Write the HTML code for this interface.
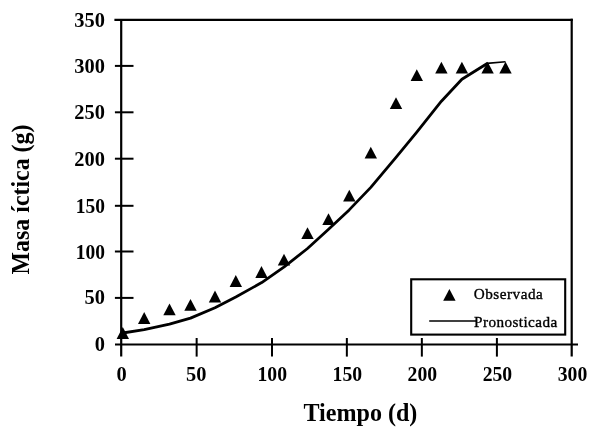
<!DOCTYPE html>
<html>
<head>
<meta charset="utf-8">
<title>Masa íctica vs Tiempo</title>
<style>
  html, body { margin: 0; padding: 0; background: #ffffff; }
  body { width: 600px; height: 435px; overflow: hidden; font-family: "Liberation Serif", serif; }
  svg { display: block; filter: grayscale(1); }
  text { font-family: "Liberation Serif", serif; fill: #000; }
  .b { font-weight: bold; }
</style>
</head>
<body>
<svg width="600" height="435" viewBox="0 0 600 435">
  <rect x="0" y="0" width="600" height="435" fill="#ffffff"/>

  <!-- plot frame -->
  <g stroke="#000" stroke-width="2.2" fill="none" stroke-linecap="butt">
    <line x1="114.4" y1="19.8" x2="572.8" y2="19.8"/>
    <line x1="121.2" y1="19.5" x2="121.2" y2="356.4"/>
    <line x1="571.7" y1="18.7" x2="571.7" y2="356.4"/>
    <line x1="115" y1="344.5" x2="578" y2="344.5" stroke-width="2"/>
  </g>

  <!-- y ticks -->
  <g stroke="#000" stroke-width="2">
    <line x1="114.9" y1="65.9" x2="133.5" y2="65.9"/>
    <line x1="114.9" y1="112.3" x2="133.5" y2="112.3"/>
    <line x1="114.9" y1="158.7" x2="133.5" y2="158.7"/>
    <line x1="114.9" y1="205.8" x2="133.5" y2="205.8"/>
    <line x1="114.9" y1="251.5" x2="133.5" y2="251.5"/>
    <line x1="114.9" y1="297.9" x2="133.5" y2="297.9"/>
  </g>
  <!-- x ticks -->
  <g stroke="#000" stroke-width="2">
    <line x1="196.65" y1="338" x2="196.65" y2="356.6"/>
    <line x1="272.0" y1="338" x2="272.0" y2="356.6"/>
    <line x1="346.85" y1="338" x2="346.85" y2="356.6"/>
    <line x1="421.85" y1="338" x2="421.85" y2="356.6"/>
    <line x1="496.9" y1="338" x2="496.9" y2="356.6"/>
  </g>

  <!-- y labels -->
  <g class="b" font-size="20.4" text-anchor="end">
    <text x="104.9" y="26.9">350</text>
    <text x="104.9" y="72.9">300</text>
    <text x="104.9" y="119.3">250</text>
    <text x="104.9" y="165.7">200</text>
    <text transform="translate(104.9,212.5) scale(0.955,1)">150</text>
    <text transform="translate(104.9,258.5) scale(0.955,1)">100</text>
    <text x="104.9" y="304.3">50</text>
    <text x="104.9" y="351.1">0</text>
  </g>
  <!-- x labels -->
  <g class="b" font-size="20.4" text-anchor="middle">
    <text x="121.6" y="380.6">0</text>
    <text x="196.3" y="380.6">50</text>
    <text transform="translate(272.2,380.6) scale(0.965,1)">100</text>
    <text transform="translate(347.3,380.6) scale(0.965,1)">150</text>
    <text transform="translate(422.3,380.6) scale(0.965,1)">200</text>
    <text transform="translate(497.4,380.6) scale(0.965,1)">250</text>
    <text transform="translate(572.5,380.6) scale(0.965,1)">300</text>
  </g>

  <!-- axis titles -->
  <text class="b" font-size="24.1" text-anchor="middle" transform="translate(360.4,420.8) scale(1,1.045)">Tiempo (d)</text>
  <text class="b" font-size="23.9" text-anchor="middle" transform="translate(28.7,199.5) rotate(-90) scale(1,1.05)">Masa íctica (g)</text>

  <!-- predicted curve -->
  <path d="M121.3,333.2 L122.7,333 L144.2,329.7 L169.5,324.2 L190.5,318.1 L215,307.7 L235.8,296.9 L261.7,282.6 L284.2,266.8 L307.5,248.5 L328.3,229.5 L349.2,209.9 L370.8,187.4 L396,157.3 L416.8,132.1 L441.4,101.2 L461.9,79.2 L487.6,63.3"
        fill="none" stroke="#000" stroke-width="2.8" stroke-linejoin="round"/>
  <path d="M487,63.4 L505.5,61.7" fill="none" stroke="#000" stroke-width="1.6"/>

  <!-- observed triangles -->
  <defs>
    <path id="t" d="M0,-6.1 L6.2,5.7 L-6.2,5.7 Z" fill="#000"/>
  </defs>
  <g>
    <use href="#t" x="122.8" y="333.2"/>
    <use href="#t" x="144.2" y="318.2"/>
    <use href="#t" x="169.5" y="309.5"/>
    <use href="#t" x="190.5" y="305.1"/>
    <use href="#t" x="215" y="296.7"/>
    <use href="#t" x="235.8" y="281.2"/>
    <use href="#t" x="261.5" y="272.2"/>
    <use href="#t" x="284" y="259.9"/>
    <use href="#t" x="307.5" y="233.3"/>
    <use href="#t" x="328.5" y="219.3"/>
    <use href="#t" x="349.3" y="195.8"/>
    <use href="#t" x="370.8" y="152.8"/>
    <use href="#t" x="396" y="103.3"/>
    <use href="#t" x="416.8" y="75.3"/>
    <use href="#t" x="441.4" y="67.8"/>
    <use href="#t" x="461.9" y="67.8"/>
    <use href="#t" x="487.6" y="67.8"/>
    <use href="#t" x="505.5" y="67.8"/>
  </g>

  <!-- legend -->
  <rect x="411.2" y="279.3" width="154" height="55.3" fill="#fff" stroke="#000" stroke-width="2.1"/>
  <use href="#t" x="449.4" y="295"/>
  <line x1="429.2" y1="320.9" x2="476" y2="320.9" stroke="#000" stroke-width="1.5"/>
  <text font-size="15.2" letter-spacing="0.5" stroke="#000" stroke-width="0.35" x="473.8" y="299.4">Observada</text>
  <text font-size="15.2" letter-spacing="0.42" stroke="#000" stroke-width="0.35" x="474.1" y="326.9">Pronosticada</text>
</svg>
</body>
</html>
